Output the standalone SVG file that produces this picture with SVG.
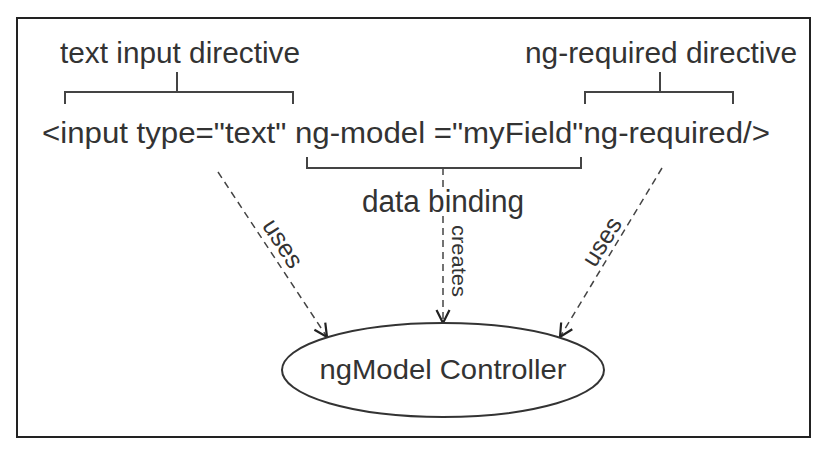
<svg xmlns="http://www.w3.org/2000/svg" width="828" height="456" viewBox="0 0 828 456">
<defs>
<style>
text{font-family:"Liberation Sans","DejaVu Sans",sans-serif;fill:#333}
.br{fill:none;stroke:#444;stroke-width:2}
.dash{fill:none;stroke:#444;stroke-width:1.5;stroke-dasharray:7 5}
</style>
<marker id="ah" viewBox="0 0 16 16" refX="15" refY="8" markerWidth="16" markerHeight="16" markerUnits="userSpaceOnUse" orient="auto">
<path d="M2,1.5 L15,8 L2,14.5" fill="none" stroke="#222" stroke-width="2.2"/>
</marker>
</defs>
<rect x="0" y="0" width="828" height="456" fill="#fff"/>
<rect x="17" y="18" width="793" height="419" fill="#fff" stroke="#222" stroke-width="2"/>
<g id="labels">
<text x="60" y="63" font-size="29" textLength="240" lengthAdjust="spacingAndGlyphs">text input directive</text>
<text x="525" y="63" font-size="29" textLength="272" lengthAdjust="spacingAndGlyphs">ng-required directive</text>
<path class="br" d="M65,104 V92 H293 V104 M177,72 V92"/>
<path class="br" d="M585,104 V92 H733 V104 M660,72 V92"/>
</g>
<g id="code">
<text x="42" y="143" font-size="30" textLength="728" lengthAdjust="spacingAndGlyphs">&lt;input type="text" ng-model ="myField"ng-required/&gt;</text>
<path class="br" d="M307,157 V168 H581 V157"/>
<text x="362" y="212" font-size="31" textLength="162" lengthAdjust="spacingAndGlyphs">data binding</text>
</g>
<g id="connectors">
<path class="dash" d="M443,168 V188"/>
<path class="dash" d="M443,216 V323" marker-end="url(#ah)"/>
<path class="dash" d="M218,172 L327,337" marker-end="url(#ah)"/>
<path class="dash" d="M662,168 L560,337" marker-end="url(#ah)"/>
<text x="0" y="0" font-size="25" text-anchor="middle" transform="translate(276,248) rotate(57)">uses</text>
<text x="0" y="0" font-size="25" text-anchor="middle" transform="translate(609,246) rotate(-58)">uses</text>
<text x="0" y="0" font-size="21" text-anchor="middle" transform="translate(452,261) rotate(90)" textLength="72" lengthAdjust="spacingAndGlyphs">creates</text>
</g>
<g id="ngModelController">
<ellipse cx="443" cy="370" rx="161" ry="47" fill="#fff" stroke="#333" stroke-width="2"/>
<text x="443" y="379" font-size="28" text-anchor="middle" textLength="247" lengthAdjust="spacingAndGlyphs">ngModel Controller</text>
</g>
</svg>
